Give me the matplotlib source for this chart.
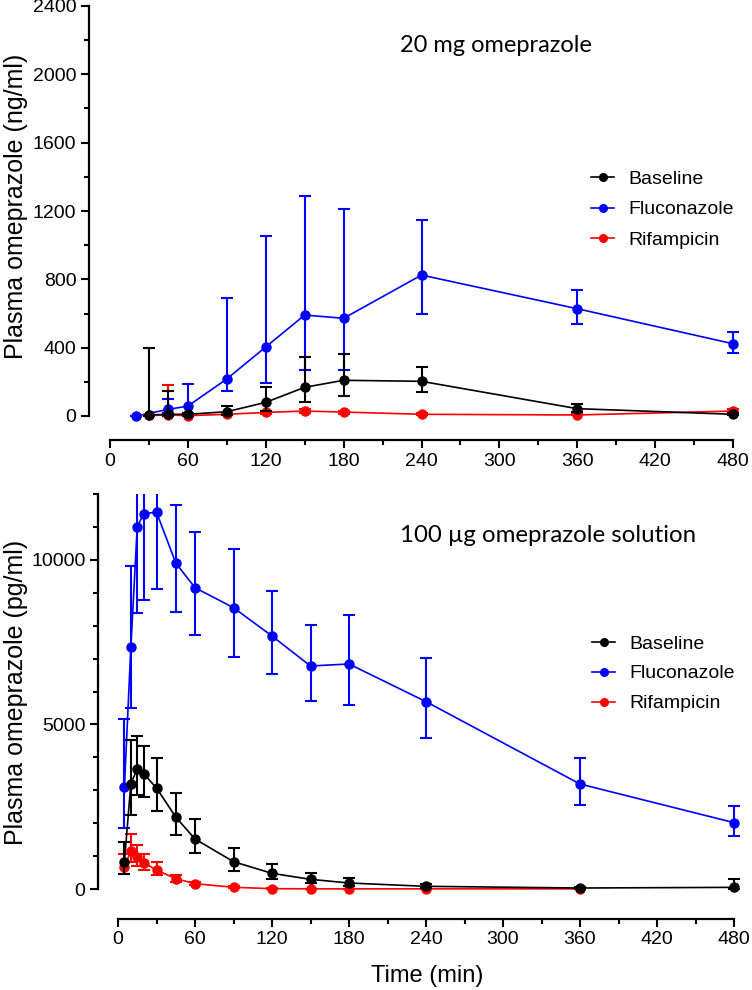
import numpy as np
import matplotlib.pyplot as plt
from matplotlib.lines import Line2D
from matplotlib.ticker import MultipleLocator

plt.rcParams['font.family'] = ['Liberation Sans', 'DejaVu Sans']

# top panel, 20 mg omeprazole (ng/ml), asymmetric error bars (low, high)
t_top_base = [30, 45, 60, 90, 120, 150, 180, 240, 360, 480]
top_base = [6, 10, 10, 25, 80, 168, 209, 203, 43, 10]
top_base_lo = [0, 0, 0, 5, 30, 84, 119, 140, 25, 5]
top_base_hi = [398, 146, 20, 61, 172, 343, 361, 285, 70, 15]

t_top_flu = [20, 45, 60, 90, 120, 150, 180, 240, 360, 480]
top_flu = [0, 39, 58, 217, 404, 591, 572, 825, 628, 423]
top_flu_lo = [0, 15, 20, 145, 195, 272, 269, 597, 538, 367]
top_flu_hi = [0, 100, 187, 690, 1054, 1288, 1210, 1147, 736, 490]

t_top_rif = [30, 45, 60, 90, 120, 150, 180, 240, 360, 480]
top_rif = [3, 6, 2, 10, 21, 29, 23, 10, 6, 29]
top_rif_lo = [0, 0, 0, 5, 10, 15, 12, 5, 3, 15]
top_rif_hi = [5, 180, 5, 15, 30, 40, 32, 15, 10, 40]

# bottom panel, 100 ug omeprazole solution (pg/ml)
t_bot = [5, 10, 15, 20, 30, 45, 60, 90, 120, 150, 180, 240, 360, 480]
bot_base = [820, 3200, 3646, 3503, 3068, 2187, 1519, 830, 476, 294, 182, 81, 30, 50]
bot_base_lo = [456, 2248, 2856, 2805, 2376, 1630, 1085, 547, 294, 173, 91, 40, 10, 10]
bot_base_hi = [1428, 4527, 4658, 4354, 3980, 2907, 2117, 1236, 750, 496, 334, 140, 60, 304]

bot_flu = [3090, 7340, 11000, 11400, 11450, 9904, 9153, 8546, 7686, 6775, 6836, 5691, 3190, 2015]
bot_flu_lo = [1843, 5489, 8375, 8780, 9105, 8425, 7727, 7058, 6532, 5721, 5600, 4597, 2562, 1610]
bot_flu_hi = [5174, 9813, 13500, 13500, 13500, 11666, 10846, 10330, 9063, 8030, 8334, 7027, 3980, 2531]

t_bot_rif = [5, 10, 15, 20, 30, 45, 60, 90, 120, 150, 180, 240, 360]
bot_rif = [678, 1154, 982, 800, 577, 314, 162, 52, 10, 5, 5, 5, 5]
bot_rif_lo = [456, 830, 699, 577, 425, 222, 120, 30, 5, 3, 3, 3, 3]
bot_rif_hi = [1063, 1661, 1337, 1063, 811, 425, 210, 80, 20, 10, 10, 10, 10]

labels = ['Baseline', 'Fluconazole', 'Rifampicin']
colors = ['black', '#0000ff', '#ff0000']

W, H = 752, 990
fig = plt.figure(figsize=(W / 100, H / 100), dpi=100)


def px_axes(x0, x480, xlim, y0, ytop, ytopval, ylim):
    # place axes so that data x=0/480 and y=0/ytopval land on given pixels
    sx = (x480 - x0) / 480.0
    sy = (y0 - ytop) / ytopval
    left = x0 + (xlim[0]) * sx
    right = x0 + xlim[1] * sx
    bottom = y0 - ylim[0] * sy
    top = y0 - ylim[1] * sy
    ax = fig.add_axes([left / W, 1 - bottom / H, (right - left) / W, (bottom - top) / H])
    ax.set_xlim(*xlim)
    ax.set_ylim(*ylim)
    return ax, left, bottom


def style(ax, left, bottom, spine_x, spine_y, ymax, ymaj, ymin):
    for s in ['top', 'right']:
        ax.spines[s].set_visible(False)
    ax.spines['left'].set_linewidth(1.6)
    ax.spines['bottom'].set_linewidth(1.6)
    ax.spines['left'].set_position(('outward', (left - spine_x) * 0.72))
    ax.spines['bottom'].set_position(('outward', (spine_y - bottom) * 0.72))
    ax.spines['left'].set_bounds(0, ymax)
    ax.spines['bottom'].set_bounds(0, 480)
    ax.set_xticks(np.arange(0, 481, 60))
    ax.xaxis.set_minor_locator(MultipleLocator(30))
    ax.set_yticks(np.arange(0, ymax + 1, ymaj))
    ax.yaxis.set_minor_locator(MultipleLocator(ymin))
    ax.tick_params(which='major', length=6, width=1.5, labelsize=14, pad=3)
    ax.tick_params(which='minor', length=3.5, width=1.5)


def series(ax, t, v, lo, hi, c, z):
    v = np.array(v, dtype=float)
    err = [v - np.array(lo), np.array(hi) - v]
    ax.errorbar(t, v, yerr=err, color=c, marker='o', ms=6.5, lw=1.2,
                elinewidth=1.5, capsize=4, capthick=1.5, zorder=z)


def legend(ax, xpx, ypx, spacing):
    hs = [Line2D([], [], color=c, marker='o', ms=5.5, lw=1.2) for c in colors]
    ax.legend(hs, labels, loc='upper left', bbox_to_anchor=(xpx / W, 1 - ypx / H),
              bbox_transform=fig.transFigure, frameon=False, fontsize=14,
              handlelength=1.2, handletextpad=0.7, labelspacing=spacing,
              borderpad=0, borderaxespad=0)


# top panel
ax1, l1, b1 = px_axes(110, 733, (-10, 490), 416, 6, 2400, (-80, 2400))
style(ax1, l1, b1, 89, 440, 2400, 400, 200)
series(ax1, t_top_flu, top_flu, top_flu_lo, top_flu_hi, colors[1], 2)
series(ax1, t_top_rif, top_rif, top_rif_lo, top_rif_hi, colors[2], 3)
series(ax1, t_top_base, top_base, top_base_lo, top_base_hi, colors[0], 4)
legend(ax1, 591, 170, 0.68)
fig.text(400 / W, 1 - 45 / H, '20 mg omeprazole', fontsize=17, family='Lato', va='center')
fig.text(16 / W, 1 - 206 / H, 'Plasma omeprazole (ng/ml)', fontsize=18, rotation=90,
         ha='center', va='center')

# bottom panel
ax2, l2, b2 = px_axes(118, 734, (-10, 490), 889, 494, 12000, (-400, 12000))
style(ax2, l2, b2, 98, 919, 12000, 5000, 1000)
series(ax2, t_bot, bot_flu, bot_flu_lo, bot_flu_hi, colors[1], 2)
series(ax2, t_bot_rif, bot_rif, bot_rif_lo, bot_rif_hi, colors[2], 3)
series(ax2, t_bot, bot_base, bot_base_lo, bot_base_hi, colors[0], 4)
legend(ax2, 592, 635, 0.63)
fig.text(400 / W, 1 - 536 / H, '100 µg omeprazole solution', fontsize=17.3, family='Lato',
         va='center')
fig.text(16 / W, 1 - 692 / H, 'Plasma omeprazole (pg/ml)', fontsize=18, rotation=90,
         ha='center', va='center')
fig.text(427 / W, 1 - 976 / H, 'Time (min)', fontsize=17, ha='center', va='center')

fig.savefig('out.png', dpi=100)
